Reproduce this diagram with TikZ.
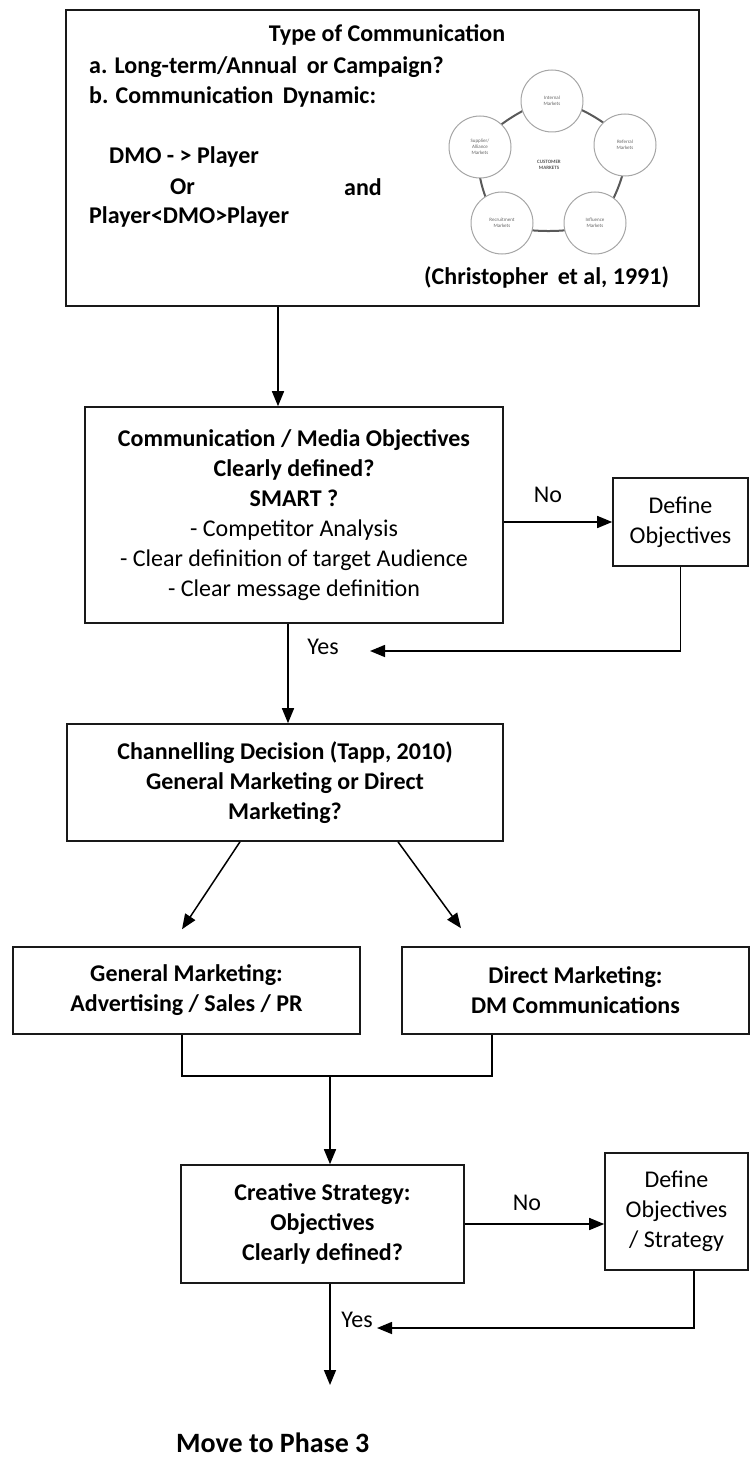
\documentclass[tikz,border=0pt]{standalone}
\usepackage{fontspec}
\setmainfont{Carlito}
\usetikzlibrary{arrows.meta}

\begin{document}
\begin{tikzpicture}[x=1pt,y=-1pt,
    box/.style={draw=black!90,line width=1.6pt,inner sep=0pt,align=center,font=\fontsize{24}{30}\selectfont},
    txt/.style={inner sep=0pt,font=\fontsize{24}{30}\selectfont},
    txtb/.style={inner sep=0pt,font=\fontsize{24}{30}\selectfont\bfseries},
    arr/.style={line width=1.5pt,-{Triangle[length=15pt,width=12pt]}},
    wire/.style={line width=1.5pt},
    ring/.style={draw=black!65,line width=2pt},
    mkt/.style={circle,draw=black!35,fill=white,line width=1pt,minimum size=62pt,inner sep=0pt,align=center,text=black!60,font=\fontsize{5}{6}\selectfont}]
    \useasboundingbox (0,0) rectangle (750,1458);

    \node [box,minimum width=633pt,minimum height=296pt] (typebox) at (382.5,158) {};
    \node [txtb] (ttl) at (387,35) {Type of Communication};
    \node [txtb,anchor=west] (qa) at (89,67) {a. Long-term/Annual\, or Campaign?};
    \node [txtb,anchor=west] (qb) at (89,97) {b. Communication\, Dynamic:};
    \node [txtb,anchor=west] (dyn1) at (109,157) {DMO - > Player};
    \node [txtb,anchor=west] (dynor) at (170,187) {Or};
    \node [txtb,anchor=west] (dynand) at (344,187) {and};
    \node [txtb,anchor=west] (dyn2) at (89,217) {Player<DMO>Player};
    \node [txtb,anchor=west] (cite) at (424,277) {(Christopher\, et al, 1991)};

    \draw [ring] plot [smooth cycle] coordinates {(552,101) (625,145) (595,223) (502,223) (480,147)};
    \foreach \x/\y/\t [count=\i] in {552/101/{Internal\\Markets},625/145/{Referral\\Markets},595/223/{Influence\\Markets},502/223/{Recruitment\\Markets},480/147/{Supplier/\\Alliance\\Markets}}{
        \node [mkt] (mkt\i) at (\x,\y) {\t};
    }
    \node [align=center,inner sep=0pt,text=black!65,font=\fontsize{5}{6}\selectfont\bfseries] (cust) at (549,165) {CUSTOMER\\MARKETS};

    \node [box,minimum width=418pt,minimum height=216pt] (obj) at (294,515) {\textbf{Communication / Media Objectives}\\\textbf{Clearly defined?}\\\textbf{SMART ?}\\- Competitor Analysis\\- Clear definition of target Audience\\- Clear message definition};
    \node [box,minimum width=135pt,minimum height=88pt] (defa) at (680.5,522) {Define\\Objectives};
    \node [box,minimum width=436pt,minimum height=117pt,font=\fontsize{24}{30}\selectfont\bfseries] (chan) at (285,782.5) {Channelling Decision (Tapp, 2010)\\General Marketing or Direct\\Marketing?};
    \node [box,minimum width=347pt,minimum height=87pt,font=\fontsize{24}{30}\selectfont\bfseries] (gen) at (186.5,990.5) {General Marketing:\\Advertising / Sales / PR};
    \node [box,minimum width=347pt,minimum height=87pt,font=\fontsize{24}{30}\selectfont\bfseries] (dir) at (575.5,990.5) {Direct Marketing:\\DM Communications};
    \node [box,minimum width=283pt,minimum height=118pt,font=\fontsize{24}{30}\selectfont\bfseries] (crea) at (322.5,1224) {Creative Strategy:\\Objectives\\Clearly defined?};
    \node [box,minimum width=143pt,minimum height=117pt] (defb) at (676.5,1211.5) {Define\\Objectives\\/ Strategy};

    \node [txt] (noa) at (548,495) {No};
    \node [txt] (yesa) at (323,647) {Yes};
    \node [txt] (nob) at (527,1203) {No};
    \node [txt] (yesb) at (357,1320) {Yes};
    \node [txtb,font=\fontsize{28}{34}\selectfont\bfseries,anchor=west] (phase) at (176,1443) {Move to Phase 3};

    \coordinate (c1) at (278,0);
    \coordinate (c2) at (288,0);
    \coordinate (backa) at (370,651);
    \coordinate (mg) at (330,1076);
    \coordinate (backb) at (377,1328);
    \coordinate (endp) at (330,1385);

    \draw [arr] (typebox.south -| c1) -- (obj.north -| c1);
    \draw [arr] (obj.east |- defa.west) -- (defa.west);
    \draw [arr] (defa.south) |- (backa);
    \draw [arr] (obj.south -| c2) -- (chan.north -| c2);
    \draw [arr] ([xshift=-45pt]chan.south) -- ([shift={(-4.5pt,17pt)}]gen.north);
    \draw [arr] ([xshift=113pt]chan.south) -- ([shift={(-114.5pt,18pt)}]dir.north);
    \draw [wire] ([xshift=-4.5pt]gen.south) |- (mg) -| ([xshift=-83.5pt]dir.south);
    \draw [arr] (mg) -- (crea.north -| mg);
    \draw [arr] (crea.east) -- (crea.east -| defb.west);
    \draw [arr] ([xshift=17.5pt]defb.south) |- (backb);
    \draw [arr] (crea.south -| mg) -- (endp);
\end{tikzpicture}
\end{document}
